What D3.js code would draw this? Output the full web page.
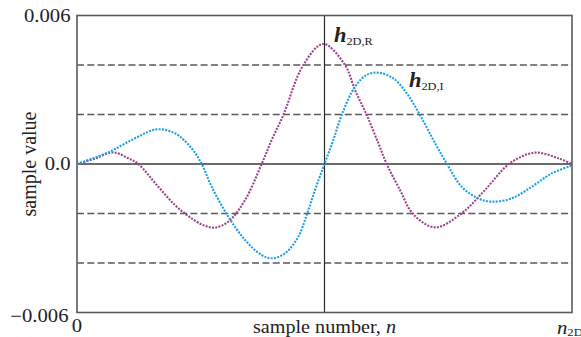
<!DOCTYPE html>
<html>
<head>
<meta charset="utf-8">
<script src="https://cdn.jsdelivr.net/npm/d3@7/dist/d3.min.js"></script>
<style>
  html, body { margin: 0; padding: 0; background: #fff; overflow: hidden; }
  svg { display: block; }
  text { font-family: "Liberation Serif", "DejaVu Serif", serif; fill: #222; }
</style>
</head>
<body>
<svg id="chart" width="581" height="337"></svg>
<script>
// Sample position as a fraction of n_2D, and the two filter components.
const nR = [0, 0.0364, 0.0733, 0.1036, 0.1238, 0.1642, 0.198, 0.2248, 0.255, 0.279,
            0.3057, 0.3394, 0.3731, 0.3933, 0.4168, 0.4572, 0.4976, 0.5414, 0.5616,
            0.5853, 0.6087, 0.6257, 0.6525, 0.6794, 0.7232, 0.7772, 0.8242, 0.8747,
            0.9253, 0.9723, 1];
const hR = [0, 0.00022, 0.00047, 0.00023, 0, -0.00092, -0.00166, -0.0021, -0.00247, -0.00257,
            -0.00233, -0.00146, 0, 0.00097, 0.00198, 0.0040, 0.00485, 0.0040, 0.00299,
            0.00198, 0.00084, 0, -0.00105, -0.00203, -0.00256, -0.00199, -0.00105, 0.00003,
            0.00046, 0.00023, 0];

const nI = [0, 0.0632, 0.1172, 0.161, 0.198, 0.2317, 0.2519, 0.2721, 0.3057, 0.3394,
            0.3731, 0.3933, 0.4202, 0.4471, 0.464, 0.4808, 0.5, 0.5178, 0.5347, 0.5616,
            0.5853, 0.6087, 0.639, 0.666, 0.6929, 0.7198, 0.7475, 0.7772, 0.8107,
            0.8378, 0.8782, 0.9186, 0.959, 1];
const hI = [0, 0.00047, 0.00104, 0.0014, 0.00124, 0.00063, 0, -0.00092, -0.00213, -0.00307,
            -0.00368, -0.00381, -0.00361, -0.00294, -0.00206, -0.00105, 0, 0.00097, 0.00198, 0.00312,
            0.0036, 0.00369, 0.00346, 0.00286, 0.00198, 0.00097, 0, -0.00092, -0.00139,
            -0.00152, -0.00139, -0.00092, -0.00038, -0.00006];

// Axis ticks and reference levels
const yTickValues = [0.006, 0, -0.006];
const yTickLabels = ["0.006", "0.0", "\u22120.006"];
const gridLevels = [0.004, 0.002, -0.002, -0.004];
const xTickLabels = ["0", "n"];

const svg = d3.select("#chart");
const plotL = 77, plotR = 572, plotT = 15.5, plotB = 312.5;

const x = d3.scaleLinear().domain([0, 1]).range([plotL, plotR]);
const y = d3.scaleLinear().domain([-0.006, 0.006]).range([plotB, plotT]);

// dashed reference levels
svg.append("g").selectAll("line").data(gridLevels).join("line")
  .attr("x1", plotL).attr("x2", plotR)
  .attr("y1", d => y(d)).attr("y2", d => y(d))
  .attr("stroke", "#5a5a5a").attr("stroke-width", 1.3)
  .attr("stroke-dasharray", "7,3.3");

// zero line and centre line
svg.append("line").attr("x1", plotL).attr("x2", plotR)
  .attr("y1", y(0)).attr("y2", y(0))
  .attr("stroke", "#3a3a3a").attr("stroke-width", 1.3);
svg.append("line").attr("x1", x(0.5)).attr("x2", x(0.5))
  .attr("y1", plotT).attr("y2", plotB)
  .attr("stroke", "#2a2a2a").attr("stroke-width", 1.2);

// frame
svg.append("rect").attr("x", plotL).attr("y", plotT)
  .attr("width", plotR - plotL).attr("height", plotB - plotT)
  .attr("fill", "none").attr("stroke", "#5a5a5a").attr("stroke-width", 1.6);

// the two dotted curves
const line = d3.line().x(d => x(d[0])).y(d => y(d[1])).curve(d3.curveCatmullRom.alpha(0.5));
svg.append("path").datum(d3.zip(nR, hR)).attr("d", line)
  .attr("fill", "none").attr("stroke", "#9b4289").attr("stroke-width", 2.1)
  .attr("stroke-dasharray", "2,1.3");
svg.append("path").datum(d3.zip(nI, hI)).attr("d", line)
  .attr("fill", "none").attr("stroke", "#1b9fe3").attr("stroke-width", 2.1)
  .attr("stroke-dasharray", "2,1.3");

// y tick labels
const yOffsets = [6, 6, 9];
yTickValues.forEach((v, i) => {
  svg.append("text")
    .attr("transform", `translate(${i === 2 ? 68.5 : 70.5},${y(v) + yOffsets[i]}) scale(1.15,1)`)
    .attr("text-anchor", "end").attr("font-size", 18)
    .text(yTickLabels[i]);
});

// x tick labels
svg.append("text")
  .attr("transform", `translate(${x(0)},332) scale(1.15,1)`)
  .attr("text-anchor", "middle").attr("font-size", 18).text(xTickLabels[0]);
const nEnd = svg.append("text")
  .attr("transform", `translate(557,334) scale(1.15,1)`)
  .attr("font-size", 18);
nEnd.append("tspan").attr("font-style", "italic").text(xTickLabels[1]);
nEnd.append("tspan").attr("font-size", 11).attr("dy", 2).text("2D");

// axis titles
const xt = svg.append("text")
  .attr("transform", `translate(${x(0.5)},333) scale(1.12,1)`)
  .attr("text-anchor", "middle").attr("font-size", 18);
xt.append("tspan").text("sample number, ");
xt.append("tspan").attr("font-style", "italic").text("n");

svg.append("text")
  .attr("transform", `translate(36,${y(0)}) rotate(-90)`)
  .attr("text-anchor", "middle").attr("font-size", 20)
  .text("sample value");

// curve labels
function curveLabel(px, py, sub) {
  const t = svg.append("text").attr("transform", `translate(${px},${py}) scale(1.12,1)`);
  t.append("tspan").attr("font-style", "italic").attr("font-weight", "bold")
    .attr("font-size", 20).text("h");
  t.append("tspan").attr("font-size", 11).attr("dy", 3).text(sub);
}
curveLabel(334, 42, "2D,R");
curveLabel(409, 87, "2D,I");
</script>
</body>
</html>
